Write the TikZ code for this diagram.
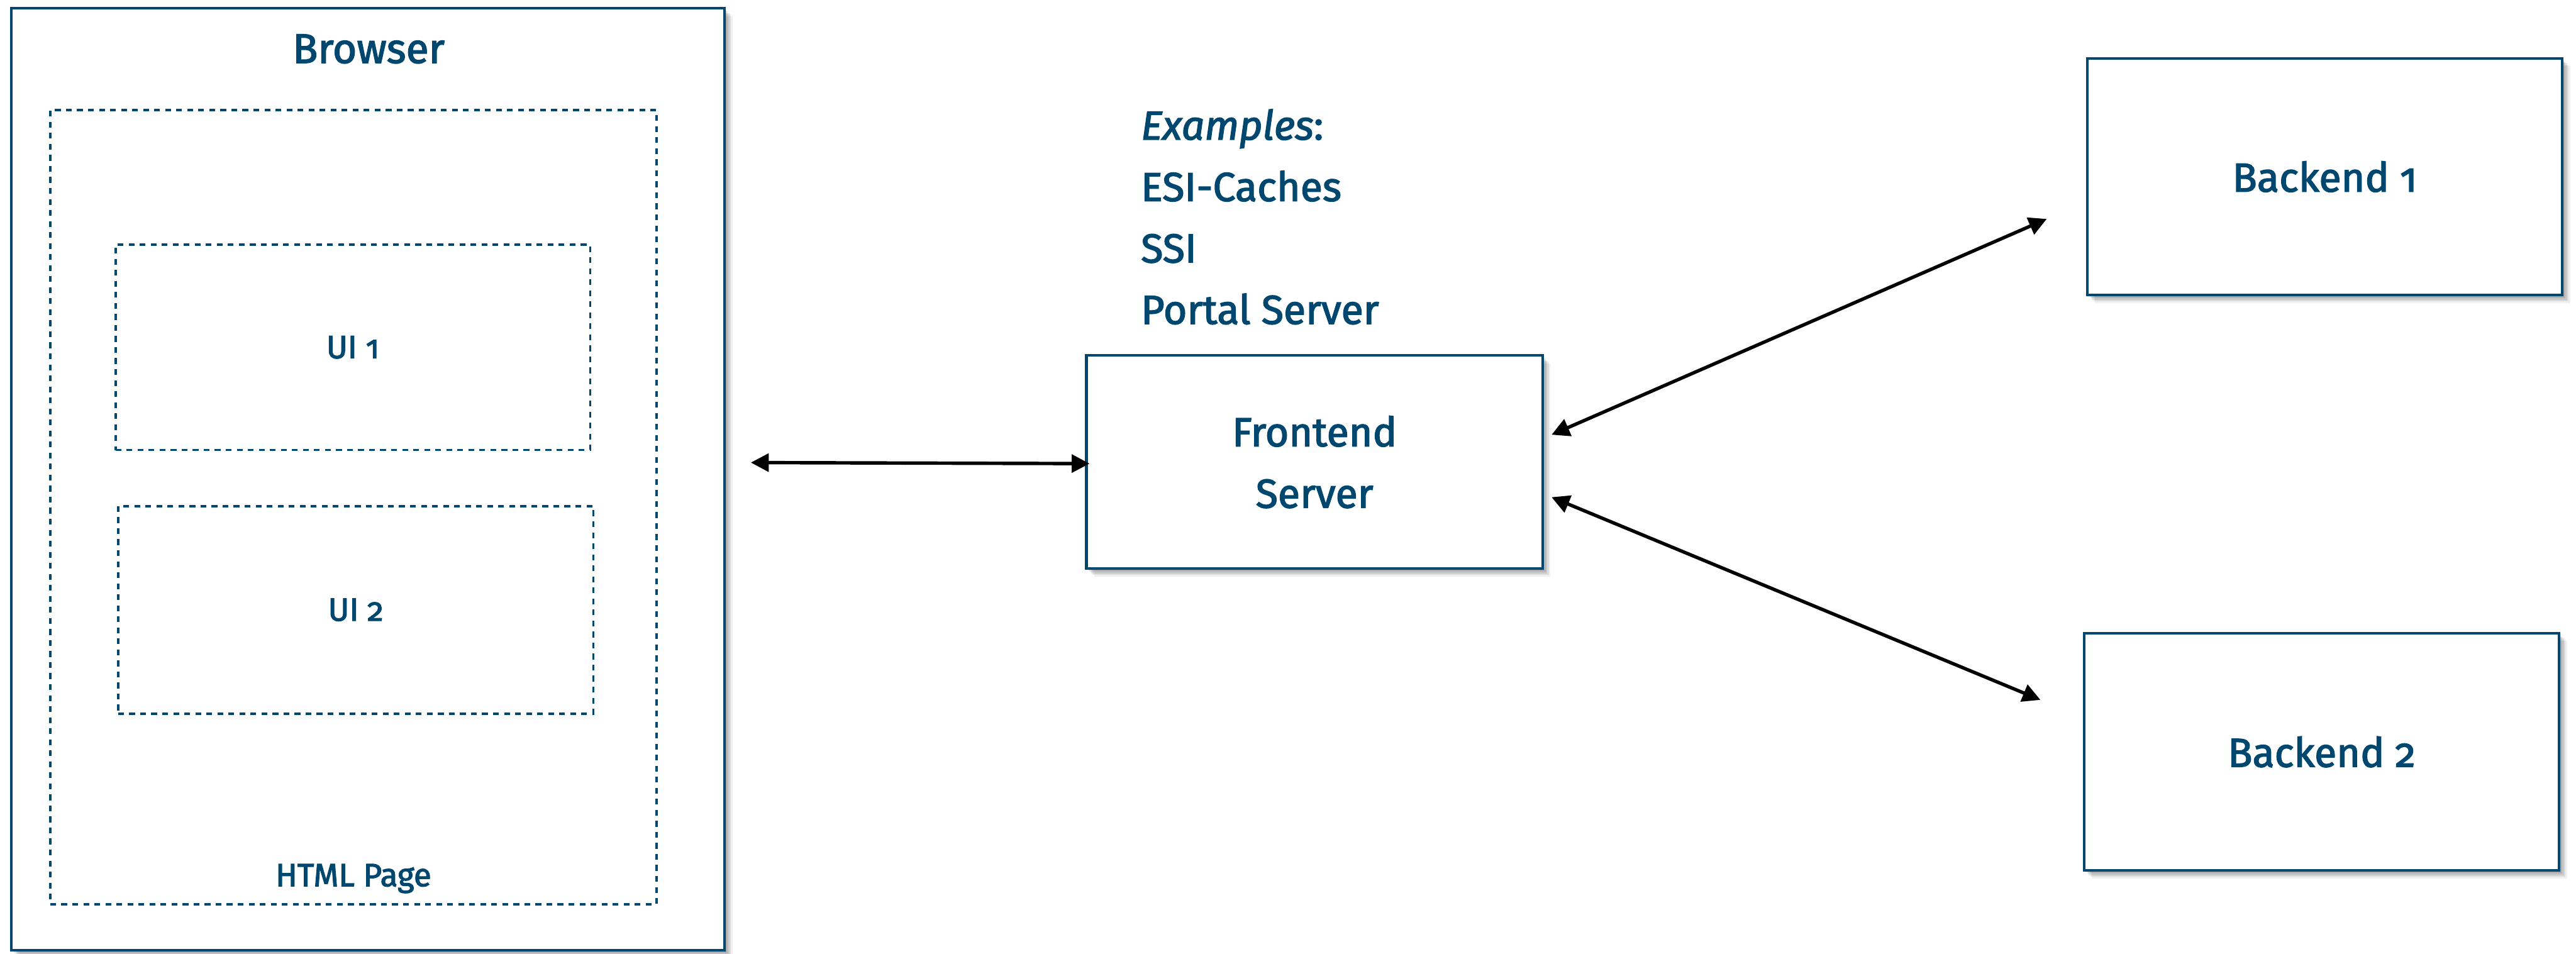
\documentclass[tikz,border=0pt]{standalone}
\usepackage{fontspec}
\setmainfont{Fira Sans}[Numbers=OldStyle,FakeBold=2.2]
\usetikzlibrary{arrows.meta,shadows,calc}
\definecolor{navy}{RGB}{0,71,111}

\tikzset{
  softshadow/.style={
    general shadow={fill=black,opacity=0.10,shadow xshift=0.03cm,shadow yshift=-0.03cm},
    general shadow={fill=black,opacity=0.10,shadow xshift=0.06cm,shadow yshift=-0.06cm},
    general shadow={fill=black,opacity=0.10,shadow xshift=0.09cm,shadow yshift=-0.09cm},
    general shadow={fill=black,opacity=0.08,shadow xshift=0.12cm,shadow yshift=-0.12cm},
    general shadow={fill=black,opacity=0.06,shadow xshift=0.15cm,shadow yshift=-0.15cm}},
  solidbox/.style={draw=navy,line width=0.05cm,fill=white,inner sep=0pt,outer sep=0pt,
    softshadow,text=navy,font=\fontsize{22pt}{33.3pt}\selectfont,align=center},
  dashbox/.style={draw=navy,line width=0.045cm,dash pattern=on 0.11cm off 0.10cm,
    inner sep=0pt,outer sep=0pt,text=navy,font=\fontsize{17.5pt}{22pt}\selectfont},
  label/.style={text=navy,inner sep=0pt,outer sep=0pt},
  link/.style={draw=black,line width=0.065cm,
    {Triangle[length=0.34cm,width=0.34cm]}-{Triangle[length=0.34cm,width=0.34cm]}}
}

\begin{document}
\begin{tikzpicture}
\useasboundingbox (0,0) rectangle (49.06,-18.16);

% browser window with the page and its two UI fragments
\node[solidbox,minimum width=13.58cm,minimum height=17.94cm] (browser) at (7.01,-9.13) {};
\node[label,anchor=base,font=\fontsize{22.5pt}{28pt}\selectfont] (browsertitle) at (7.02,-1.20) {Browser};
\node[dashbox,minimum width=11.545cm,minimum height=15.12cm] (page) at (6.73,-9.66) {};
\node[label,anchor=base,font=\fontsize{17.5pt}{22pt}\selectfont] (pagetitle) at (6.73,-16.88) {HTML Page};
\node[dashbox,minimum width=9.04cm,minimum height=3.91cm] (ui1) at (6.72,-6.615) {UI 1};
\node[dashbox,minimum width=9.05cm,minimum height=3.95cm] (ui2) at (6.775,-11.615) {UI 2};

% integration layer
\node[solidbox,minimum width=8.69cm,minimum height=4.06cm] (frontend) at (25.035,-8.80) {Frontend\\Server};
\node[label,anchor=base west,align=left,font=\fontsize{22pt}{33.3pt}\selectfont] (examples) at (21.73,-6.17)
  {\textit{Examples}:\\ESI-Caches\\SSI\\Portal Server};

% backends
\node[solidbox,minimum width=9.05cm,minimum height=4.51cm] (backend1) at (44.275,-3.365) {Backend 1};
\node[solidbox,minimum width=9.05cm,minimum height=4.52cm] (backend2) at (44.215,-14.32) {Backend 2};

% connectors
\coordinate (f1) at ($(frontend.east)+(0.17,0.52)$);
\coordinate (f2) at ($(frontend.east)+(0.17,-0.67)$);
\coordinate (b1) at ($(backend1.west)+(-0.77,-0.805)$);
\coordinate (b2) at ($(backend2.west)+(-0.83,0.99)$);
\coordinate (bw) at ($(frontend.west -| browser.east)+(0.50,-0.01)$);
\coordinate (fw) at ($(frontend.west)+(0.06,-0.03)$);

\draw[link] (bw) -- (fw);
\draw[link] (f1) -- (b1);
\draw[link] (f2) -- (b2);
\end{tikzpicture}
\end{document}
